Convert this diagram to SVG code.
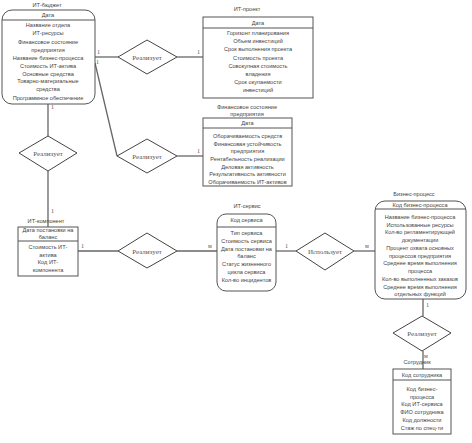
<svg xmlns="http://www.w3.org/2000/svg" width="472" height="443" viewBox="0 0 472 443">
<style>
.box{fill:#fff;stroke:#555;stroke-width:1}
.div{stroke:#555;stroke-width:1}
.t{font-family:"Liberation Sans",Arial,sans-serif;font-size:5.6px;fill:#444;text-anchor:middle}
.dm{fill:#fff;stroke:#444;stroke-width:1}
.dt{font-family:"Liberation Serif","Times New Roman",serif;font-size:7px;fill:#555;text-anchor:middle}
.c{stroke:#666;stroke-width:1.3;fill:none}
.lb{font-family:"Liberation Serif","Times New Roman",serif;font-size:6px;fill:#555}
</style>
<rect width="472" height="443" fill="#fff"/>
<g id="connectors">
<line class="c" x1="95" y1="57" x2="118" y2="57"/>
<line class="c" x1="177" y1="57" x2="203" y2="57"/>
<line class="c" x1="95" y1="63" x2="117" y2="156"/>
<line class="c" x1="177" y1="156" x2="203" y2="156"/>
<line class="c" x1="48" y1="104" x2="48" y2="136"/>
<line class="c" x1="48" y1="171" x2="48" y2="227"/>
<line class="c" x1="78" y1="251" x2="118" y2="251"/>
<line class="c" x1="177" y1="251" x2="217" y2="251"/>
<line class="c" x1="276" y1="251" x2="296" y2="251"/>
<line class="c" x1="354" y1="251" x2="375" y2="251"/>
<line class="c" x1="423" y1="299" x2="423" y2="316"/>
<line class="c" x1="423" y1="351" x2="423" y2="369"/>
<text class="lb" x="97" y="54">1</text>
<text class="lb" x="96" y="64">1</text>
<text class="lb" x="197" y="54">1</text>
<text class="lb" x="197" y="153">1</text>
<text class="lb" x="51" y="109">1</text>
<text class="lb" x="51" y="213">1</text>
<text class="lb" x="81" y="248">1</text>
<text class="lb" x="208" y="248">м</text>
<text class="lb" x="285" y="248">1</text>
<text class="lb" x="365" y="248">м</text>
<text class="lb" x="426" y="307">1</text>
<text class="lb" x="424" y="358">м</text>
</g>
<g id="it-budget">
<text class="t" x="47" y="7">ИТ-бюджет</text>
<rect class="box" x="2" y="10" width="93" height="94" rx="10"/>
<line class="div" x1="2" y1="20" x2="95" y2="20"/>
<text class="t" x="48" y="17">Дата</text>
<text class="t" x="48" y="27">Название отдела</text>
<text class="t" x="48" y="35">ИТ-ресурсы</text>
<text class="t" x="48" y="44">Финансовое состояние</text>
<text class="t" x="48" y="52">предприятия</text>
<text class="t" x="48" y="60">Название бизнес-процесса</text>
<text class="t" x="48" y="68">Стоимость ИТ-актива</text>
<text class="t" x="48" y="76">Основные средства</text>
<text class="t" x="48" y="83">Товарно-материальные</text>
<text class="t" x="48" y="91">средства</text>
<text class="t" x="48" y="100">Программное обеспечение</text>
</g>
<g id="d1">
<polygon class="dm" points="118,57 147,40 177,57 147,74"/>
<text class="dt" x="147" y="59.5">Реализует</text>
</g>
<g id="it-project">
<text class="t" x="247" y="11">ИТ-проект</text>
<rect class="box" x="203" y="17" width="110" height="81"/>
<line class="div" x1="203" y1="28" x2="313" y2="28"/>
<text class="t" x="258" y="25">Дата</text>
<text class="t" x="258" y="35">Горизонт планирования</text>
<text class="t" x="258" y="43">Объем инвестиций</text>
<text class="t" x="258" y="51">Срок выполнения проекта</text>
<text class="t" x="258" y="60">Стоимость проекта</text>
<text class="t" x="258" y="68">Совокупная стоимость</text>
<text class="t" x="258" y="76">владения</text>
<text class="t" x="258" y="84">Срок окупаемости</text>
<text class="t" x="258" y="92">инвестиций</text>
</g>
<g id="d2">
<polygon class="dm" points="117,156 147,139 177,156 147,173"/>
<text class="dt" x="147" y="158.5">Реализует</text>
</g>
<g id="fin-state">
<text class="t" x="247" y="109">Финансовое состояние</text>
<text class="t" x="247" y="116">предприятия</text>
<rect class="box" x="203" y="118" width="89" height="68"/>
<line class="div" x1="203" y1="128" x2="292" y2="128"/>
<text class="t" x="247.5" y="125">Дата</text>
<text class="t" x="247.5" y="138">Оборачиваемость средств</text>
<text class="t" x="247.5" y="146">Финансовая устойчивость</text>
<text class="t" x="247.5" y="153">предприятия</text>
<text class="t" x="247.5" y="161">Рентабельность реализации</text>
<text class="t" x="247.5" y="169">Деловая активность</text>
<text class="t" x="247.5" y="176">Результативность активности</text>
<text class="t" x="247.5" y="184">Оборачиваемость ИТ-активов</text>
</g>
<g id="d3">
<polygon class="dm" points="19,153 48,136 77,153 48,171"/>
<text class="dt" x="48" y="155.5">Реализует</text>
</g>
<g id="it-component">
<text class="t" x="46" y="223">ИТ-компонент</text>
<rect class="box" x="18" y="227" width="60" height="49"/>
<line class="div" x1="18" y1="241" x2="78" y2="241"/>
<text class="t" x="48" y="232">Дата постановки на</text>
<text class="t" x="48" y="239">баланс</text>
<text class="t" x="48" y="249">Стоимость ИТ-</text>
<text class="t" x="48" y="257">актива</text>
<text class="t" x="48" y="264">Код ИТ-</text>
<text class="t" x="48" y="272">компонента</text>
</g>
<g id="d4">
<polygon class="dm" points="118,251 147,233 177,251 147,268"/>
<text class="dt" x="147" y="253.5">Реализует</text>
</g>
<g id="it-service">
<text class="t" x="247" y="208">ИТ-сервис</text>
<rect class="box" x="217" y="214" width="59" height="77" rx="9"/>
<line class="div" x1="217" y1="227" x2="276" y2="227"/>
<text class="t" x="246.5" y="222">Код сервиса</text>
<text class="t" x="246.5" y="235">Тип сервиса</text>
<text class="t" x="246.5" y="243">Стоимость сервиса</text>
<text class="t" x="246.5" y="251">Дата постановки на</text>
<text class="t" x="246.5" y="258">баланс</text>
<text class="t" x="246.5" y="266">Статус жизненного</text>
<text class="t" x="246.5" y="274">цикла сервиса</text>
<text class="t" x="246.5" y="282">Кол-во инцидентов</text>
</g>
<g id="d5">
<polygon class="dm" points="296,251 325,233 354,251 325,270"/>
<text class="dt" x="325" y="253.5">Использует</text>
</g>
<g id="business-process">
<text class="t" x="414" y="196">Бизнес-процесс</text>
<rect class="box" x="375" y="201" width="91" height="98" rx="10"/>
<line class="div" x1="375" y1="209" x2="466" y2="209"/>
<text class="t" x="420" y="207">Код бизнес-процесса</text>
<text class="t" x="420" y="219">Название бизнес-процесса</text>
<text class="t" x="420" y="227">Использованные ресурсы</text>
<text class="t" x="420" y="234">Кол-во регламентирующей</text>
<text class="t" x="420" y="242">документации</text>
<text class="t" x="420" y="250">Процент охвата основных</text>
<text class="t" x="420" y="258">процессов предприятия</text>
<text class="t" x="420" y="265">Среднее время выполнения</text>
<text class="t" x="420" y="273">процесса</text>
<text class="t" x="420" y="281">Кол-во выполненных заказов</text>
<text class="t" x="420" y="289">Среднее время выполнения</text>
<text class="t" x="420" y="296">отдельных функций</text>
</g>
<g id="d6">
<polygon class="dm" points="393,333 422,316 451,333 422,351"/>
<text class="dt" x="422" y="335.5">Реализует</text>
</g>
<g id="employee">
<text class="t" x="417" y="364">Сотрудник</text>
<rect class="box" x="393" y="369" width="58" height="65"/>
<line class="div" x1="393" y1="380" x2="451" y2="380"/>
<text class="t" x="422" y="377">Код сотрудника</text>
<text class="t" x="422" y="391">Код бизнес-</text>
<text class="t" x="422" y="399">процесса</text>
<text class="t" x="422" y="406">Код ИТ-сервиса</text>
<text class="t" x="422" y="414">ФИО сотрудника</text>
<text class="t" x="422" y="422">Код должности</text>
<text class="t" x="422" y="430">Стаж по спец-ти</text>
</g>
</svg>
